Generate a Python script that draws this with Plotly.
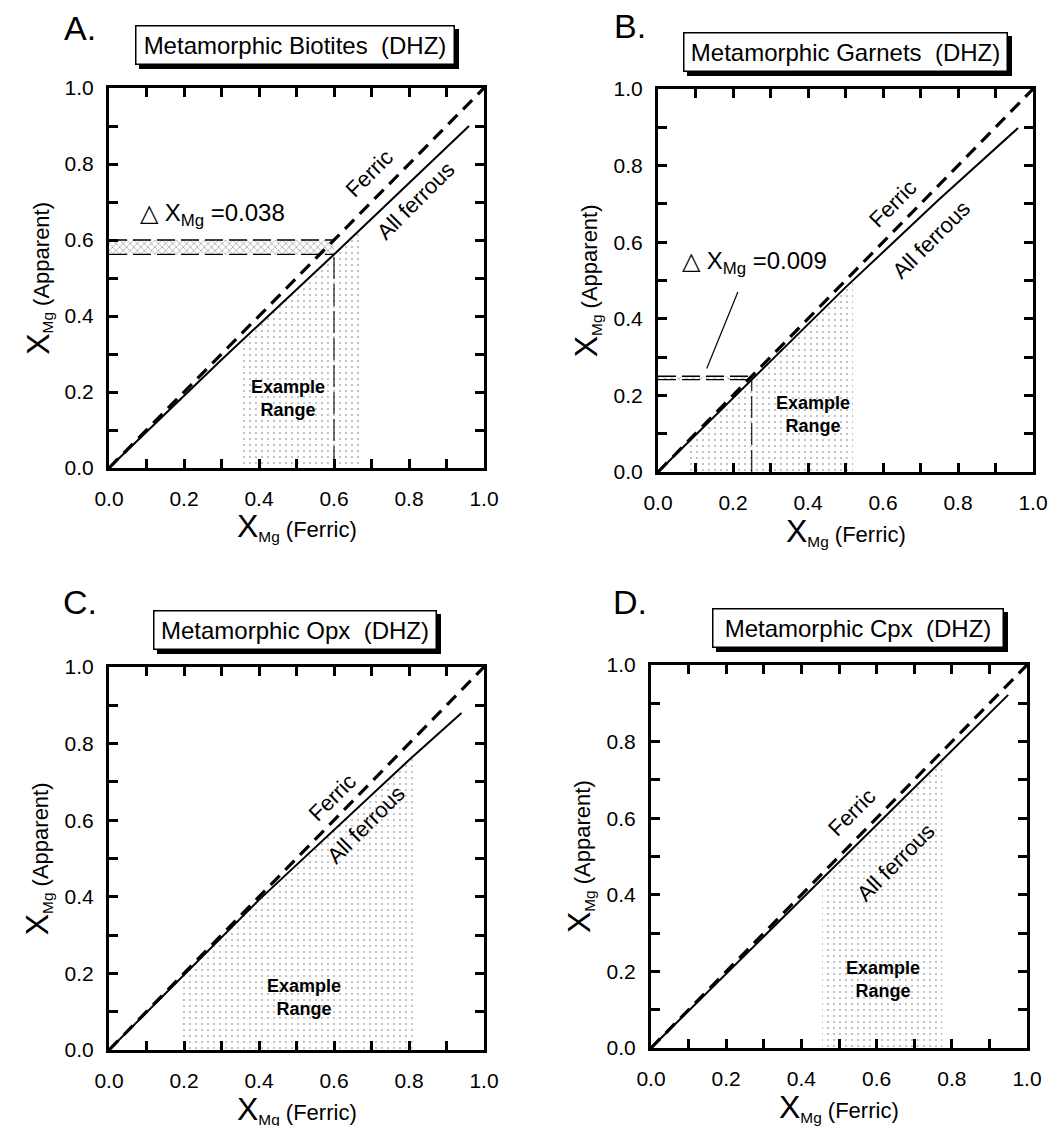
import numpy as np
import plotly.graph_objects as go

W, H = 1062, 1126

# ---------------- data ----------------
panel_letters = ["A.", "B.", "C.", "D."]
panel_titles = ["Metamorphic Biotites \u00a0(DHZ)", "Metamorphic Garnets \u00a0(DHZ)",
                "Metamorphic Opx \u00a0(DHZ)", "Metamorphic Cpx \u00a0(DHZ)"]
tick_vals = [0.0, 0.2, 0.4, 0.6, 0.8, 1.0]
tick_text = ["0.0", "0.2", "0.4", "0.6", "0.8", "1.0"]

ferric_x = [0.0, 1.0]
ferric_y = [0.0, 1.0]

ferrous_A_x = [0.0, 0.3, 0.6, 0.96]
ferrous_A_y = [0.0, 0.285, 0.562, 0.90]
ferrous_B_x = [0.0, 0.25, 0.5, 0.75, 0.96]
ferrous_B_y = [0.0, 0.241, 0.482, 0.712, 0.898]
ferrous_C_x = [0.0, 0.4, 0.8, 0.94]
ferrous_C_y = [0.0, 0.392, 0.757, 0.88]
ferrous_D_x = [0.0, 0.5, 0.95]
ferrous_D_y = [0.0, 0.485, 0.922]

range_A = [0.35, 0.67]
range_B = [0.08, 0.52]
range_C = [0.19, 0.81]
range_D = [0.455, 0.775]

delta_x_A, delta_A = 0.60, 0.038
delta_x_B, delta_B = 0.25, 0.009
leader_B_x = [0.213, 0.13]
leader_B_y = [0.47, 0.27]

# ---------------- layout geometry (pixels) ----------------
# plot areas: left, right, top, bottom
boxes = [(109, 484, 88, 468), (658, 1033, 89, 472),
         (109, 484, 667, 1050), (651, 1027, 665, 1048)]
title_boxes = [(135, 455, 25, 65), (683, 1008, 32, 72),
               (153, 437, 610, 650), (712, 1004, 608, 648)]
letter_pos = [(80, 28), (630, 26), (80, 602), (630, 602)]

FONT = "Arial"

fig = go.Figure()

ferrous = [(ferrous_A_x, ferrous_A_y), (ferrous_B_x, ferrous_B_y),
           (ferrous_C_x, ferrous_C_y), (ferrous_D_x, ferrous_D_y)]
ranges = [range_A, range_B, range_C, range_D]


def refs(i):
    return ("x" if i == 0 else f"x{i+1}"), ("y" if i == 0 else f"y{i+1}")


for i in range(4):
    xa, ya = refs(i)
    fx, fy = ferrous[i]
    lo, hi = ranges[i]
    # stippled example range, under the all-ferrous line
    inner = [v for v in fx if lo < v < hi]
    tx = [lo] + inner + [hi]
    ty = list(np.interp(tx, fx, fy))
    px = [lo] + tx + [hi, lo]
    py = [0.0] + ty + [0.0, 0.0]
    fig.add_trace(go.Scatter(
        x=px, y=py, xaxis=xa, yaxis=ya, mode="none", fill="toself",
        fillcolor="rgba(255,255,255,0)",
        fillpattern=dict(shape=".", fgcolor="#555", bgcolor="rgba(255,255,255,0)",
                         size=6, solidity=0.08),
        hoverinfo="skip", showlegend=False))

# delta bands for A and B
for i, (dx, dd) in enumerate([(delta_x_A, delta_A), (delta_x_B, delta_B)]):
    xa, ya = refs(i)
    top = dx
    bot = dx - dd
    fig.add_trace(go.Scatter(
        x=[0, dx, dx, 0, 0], y=[bot, bot, top, top, bot], xaxis=xa, yaxis=ya,
        mode="none", fill="toself", fillcolor="rgba(255,255,255,0)",
        fillpattern=dict(shape="x", fgcolor="#333", bgcolor="white", size=5, solidity=0.25),
        hoverinfo="skip", showlegend=False))
    for yy in (bot, top):
        fig.add_trace(go.Scatter(
            x=[0, dx], y=[yy, yy], xaxis=xa, yaxis=ya, mode="lines",
            line=dict(color="black", width=1.3, dash="18px,6px"),
            hoverinfo="skip", showlegend=False))
    fig.add_trace(go.Scatter(
        x=[dx, dx], y=[0, bot], xaxis=xa, yaxis=ya, mode="lines",
        line=dict(color="black", width=1.1, dash="22px,5px"),
        hoverinfo="skip", showlegend=False))

fig.add_trace(go.Scatter(x=leader_B_x, y=leader_B_y, xaxis="x2", yaxis="y2",
                         mode="lines", line=dict(color="black", width=1.2),
                         hoverinfo="skip", showlegend=False))

for i in range(4):
    xa, ya = refs(i)
    fx, fy = ferrous[i]
    fig.add_trace(go.Scatter(x=ferric_x, y=ferric_y, xaxis=xa, yaxis=ya, mode="lines",
                             line=dict(color="black", width=3.2, dash="13px,8px"),
                             hoverinfo="skip", showlegend=False))
    fig.add_trace(go.Scatter(x=fx, y=fy, xaxis=xa, yaxis=ya, mode="lines",
                             line=dict(color="black", width=2),
                             hoverinfo="skip", showlegend=False))


def axis_common():
    return dict(range=[0, 1], tickvals=tick_vals, ticktext=tick_text,
                ticks="inside", ticklen=9, tickwidth=2.5, tickcolor="black",
                showline=True, linecolor="black", linewidth=3, mirror="ticks",
                showgrid=False, zeroline=False, fixedrange=True, automargin=False,
                minor=dict(ticks="inside", ticklen=9, tickwidth=2.5, tickcolor="black",
                           dtick=0.1, tick0=0, showgrid=False),
                tickfont=dict(family=FONT, size=21, color="black"))


layout_axes = {}
for i, (l, r, t, b) in enumerate(boxes):
    xk = "xaxis" if i == 0 else f"xaxis{i+1}"
    yk = "yaxis" if i == 0 else f"yaxis{i+1}"
    xa, ya = refs(i)
    layout_axes[xk] = dict(axis_common(), domain=[l / W, r / W], anchor=ya, ticklabelstandoff=10)
    layout_axes[yk] = dict(axis_common(), domain=[1 - b / H, 1 - t / H], anchor=xa, ticklabelstandoff=8)

annotations = []
shapes = []
for i in range(4):
    xa, ya = refs(i)
    # panel letter
    lx, ly = letter_pos[i]
    annotations.append(dict(x=lx / W, y=1 - ly / H, xref="paper", yref="paper",
                            xanchor="center", yanchor="middle",
                            text=panel_letters[i], showarrow=False,
                            font=dict(family=FONT, size=34, color="black")))
    # title box with drop shadow
    l, r, t, b = title_boxes[i]
    sh = 4
    shapes.append(dict(type="rect", xref="paper", yref="paper",
                       x0=(l + sh) / W, x1=(r + sh) / W, y0=1 - (b + sh) / H, y1=1 - (t + sh) / H,
                       fillcolor="black", line=dict(width=0), layer="above"))
    annotations.append(dict(x=(l + r) / 2 / W, y=1 - (t + b) / 2 / H, xref="paper", yref="paper",
                            xanchor="center", yanchor="middle",
                            text=panel_titles[i], showarrow=False,
                            width=(r - l) - 9, height=(b - t) - 9, borderpad=3,
                            bordercolor="black", borderwidth=1.5, bgcolor="white",
                            font=dict(family=FONT, size=24, color="black")))
    # axis titles
    annotations.append(dict(x=0.5, y=-0.155, xref=f"{xa} domain", yref=f"{ya} domain",
                            xanchor="center", yanchor="middle",
                            text='<span style="font-size:32px">X</span><sub>Mg</sub> (Ferric)',
                            showarrow=False, font=dict(family=FONT, size=22, color="black")))
    annotations.append(dict(x=-0.19, y=0.5, xref=f"{xa} domain", yref=f"{ya} domain",
                            xanchor="center", yanchor="middle",
                            text='<span style="font-size:32px">X</span><sub>Mg</sub> (Apparent)',
                            textangle=-90, showarrow=False,
                            font=dict(family=FONT, size=22, color="black")))

# line labels
ferric_lbl = [(0.693, 0.776), (0.627, 0.70), (0.595, 0.66), (0.534, 0.614)]
ferrous_lbl = [(0.818, 0.704), (0.73, 0.606), (0.685, 0.59), (0.65, 0.485)]
example_lbl = [(0.477, 0.184), (0.413, 0.149), (0.52, 0.136), (0.617, 0.178)]
for i in range(4):
    xa, ya = refs(i)
    annotations.append(dict(x=ferric_lbl[i][0], y=ferric_lbl[i][1], xref=xa, yref=ya,
                            xanchor="center", yanchor="middle",
                            text="Ferric", textangle=-45, showarrow=False,
                            font=dict(family=FONT, size=22, color="black")))
    annotations.append(dict(x=ferrous_lbl[i][0], y=ferrous_lbl[i][1], xref=xa, yref=ya,
                            xanchor="center", yanchor="middle",
                            text="All ferrous", textangle=-45, showarrow=False,
                            font=dict(family=FONT, size=22, color="black")))
    annotations.append(dict(x=example_lbl[i][0], y=example_lbl[i][1], xref=xa, yref=ya,
                            xanchor="center", yanchor="middle",
                            text="<b>Example</b><br><b>Range</b>", showarrow=False,
                            font=dict(family=FONT, size=18, color="black")))

annotations.append(dict(x=0.275, y=0.666, xref="x", yref="y", xanchor="center", yanchor="middle",
                        text=f"\u25B3 X<sub>Mg</sub> ={delta_A:.3f}", showarrow=False,
                        font=dict(family=FONT, size=24, color="black")))
annotations.append(dict(x=0.256, y=0.546, xref="x2", yref="y2", xanchor="center", yanchor="middle",
                        text=f"\u25B3 X<sub>Mg</sub> ={delta_B:.3f}", showarrow=False,
                        font=dict(family=FONT, size=24, color="black")))

fig.update_layout(width=W, height=H, margin=dict(l=0, r=0, t=0, b=0, autoexpand=False),
                  paper_bgcolor="white", plot_bgcolor="white",
                  showlegend=False, annotations=annotations, shapes=shapes,
                  **layout_axes)

fig.write_html("out.html", config={"displayModeBar": False},
               post_script="document.body.style.margin='0px';document.body.style.overflow='hidden';")
